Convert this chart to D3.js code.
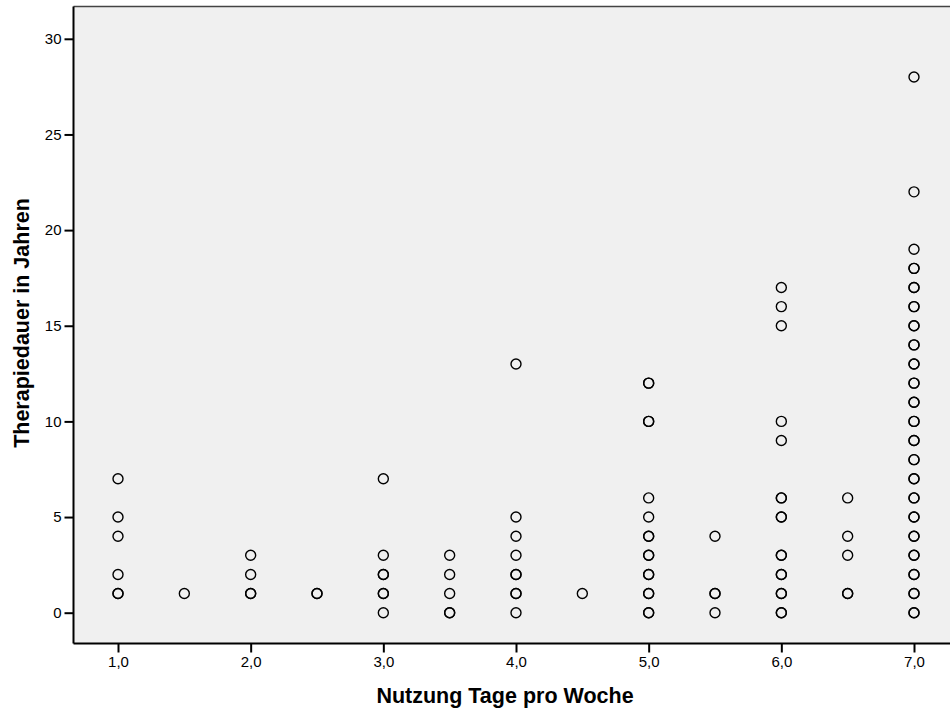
<!DOCTYPE html>
<html>
<head>
<meta charset="utf-8">
<script src="https://cdn.jsdelivr.net/npm/d3@7"></script>
<style>
  html, body { margin: 0; padding: 0; background: #fff; overflow: hidden; }
  svg { display: block; overflow: hidden; }
</style>
</head>
<body>
<svg class="scatter" width="950" height="713"></svg>
<script>
// Nutzung Tage pro Woche (x) vs. Therapiedauer in Jahren (y); repeated values = overlapping cases
const days = [1.0, 1.5, 2.0, 2.5, 3.0, 3.5, 4.0, 4.5, 5.0, 5.5, 6.0, 6.5, 7.0];
const years = [
    [7, 5, 4, 2, 1, 1],
    [1],
    [3, 2, 1, 1],
    [1, 1],
    [7, 3, 2, 2, 1, 1, 0],
    [3, 2, 1, 0, 0],
    [13, 5, 4, 3, 2, 2, 1, 1, 0],
    [1],
    [12, 12, 10, 10, 6, 5, 4, 4, 3, 3, 2, 2, 1, 1, 0, 0],
    [4, 1, 1, 0],
    [17, 16, 15, 10, 9, 6, 6, 5, 5, 3, 3, 2, 2, 1, 1, 0, 0],
    [6, 4, 3, 1, 1],
    [28, 22, 19, 18, 18, 17, 17, 16, 16, 15, 15, 14, 14, 13, 13, 12, 12, 11, 11,
     10, 10, 9, 9, 8, 8, 7, 7, 6, 6, 5, 5, 4, 4, 3, 3, 2, 2, 1, 1, 0, 0]
];
const xTicks = [1, 2, 3, 4, 5, 6, 7];
const yTicks = [0, 5, 10, 15, 20, 25, 30];

(function scatterIIFE() {
    const svg = d3.select("svg.scatter");
    const plot = {left: 73.5, top: 6.5, right: 952, bottom: 643.5};
    const font = "'Liberation Sans', Arial, sans-serif";

    const x = d3.scaleLinear().domain([1, 7]).range([118, 914]);
    const y = d3.scaleLinear().domain([0, 30]).range([612.7, 38.8]);

    let points = [];
    days.forEach(function(d, i) {
        years[i].forEach(function(v) {
            points.push({x: d, y: v});
        });
    });

    // plot background, open on the right
    svg.append("rect")
        .attr("x", plot.left).attr("y", plot.top)
        .attr("width", plot.right - plot.left).attr("height", plot.bottom - plot.top)
        .attr("fill", "#f0f0f0");
    svg.append("line")
        .attr("x1", plot.left).attr("x2", plot.right)
        .attr("y1", plot.top).attr("y2", plot.top)
        .attr("stroke", "#444").attr("stroke-width", 1.5);

    // points
    svg.append("g")
        .selectAll("circle")
        .data(points)
        .enter().append("circle")
        .attr("cx", function(d) { return x(d.x); })
        .attr("cy", function(d) { return y(d.y); })
        .attr("r", 5)
        .attr("fill", "none")
        .attr("stroke", "#000")
        .attr("stroke-width", 1.4);

    const fmt = function(d) { return d3.format(".1f")(d).replace(".", ","); };

    const xAxis = svg.append("g")
        .attr("transform", "translate(0," + plot.bottom + ")")
        .call(d3.axisBottom(x).tickValues(xTicks).tickFormat(fmt).tickSize(9).tickPadding(4))
        .attr("font-size", 15).attr("font-family", font);
    xAxis.select(".domain").attr("d", "M" + plot.left + ",0H" + plot.right);

    const yAxis = svg.append("g")
        .attr("transform", "translate(" + plot.left + ",0)")
        .call(d3.axisLeft(y).tickValues(yTicks).tickSize(9).tickPadding(3))
        .attr("font-size", 15).attr("font-family", font);
    yAxis.select(".domain").attr("d", "M0," + plot.top + "V" + plot.bottom);

    svg.selectAll(".domain, .tick line").attr("stroke", "#000").attr("stroke-width", 2);

    svg.append("text")
        .attr("x", 505).attr("y", 703)
        .attr("text-anchor", "middle")
        .attr("font-family", font).attr("font-size", 21.5).attr("font-weight", "bold")
        .text("Nutzung Tage pro Woche");

    svg.append("text")
        .attr("transform", "translate(29,323) rotate(-90)")
        .attr("text-anchor", "middle")
        .attr("font-family", font).attr("font-size", 21.5).attr("font-weight", "bold")
        .text("Therapiedauer in Jahren");
})();
</script>
</body>
</html>
